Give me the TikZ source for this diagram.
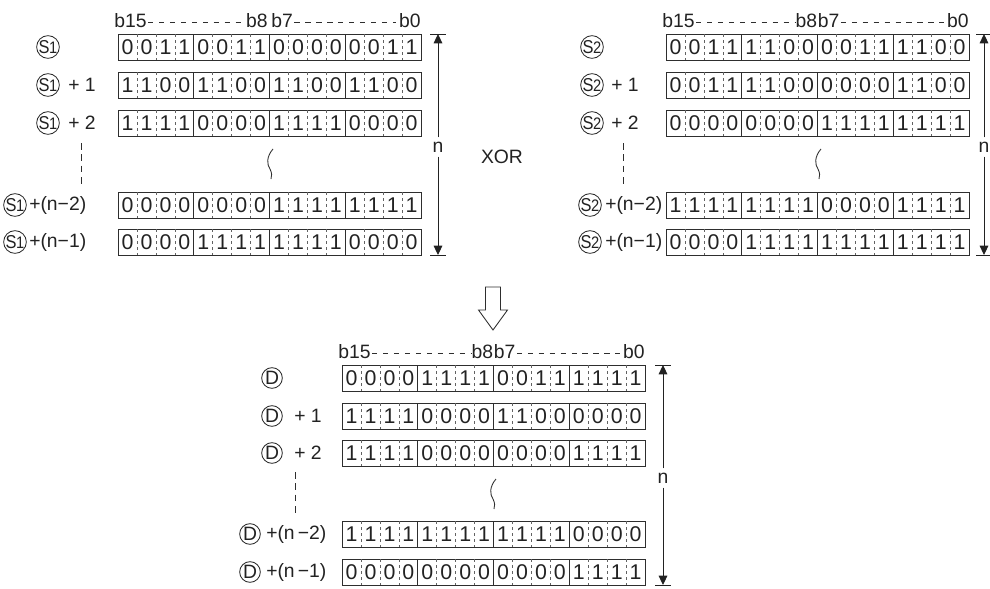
\documentclass[tikz,border=0pt]{standalone}
\usepackage{fontspec}
\setmainfont{Liberation Sans}
\usepackage{graphicx}
\usetikzlibrary{arrows.meta}
\definecolor{ink}{HTML}{222222}
\definecolor{lin}{HTML}{2E2E2E}
\newcommand\rowh{26}
\newcommand\regrow[4]{%
  \node[rowbox] (#1) at (#2,#3) {};
  \foreach \k in {1,...,15}{%
    \pgfmathtruncatemacro\mm{mod(\k,4)}%
    \ifnum\mm=0
      \draw[grpsep] (#2+\k*18.9375,#3) -- (#2+\k*18.9375,#3+\rowh);%
    \else
      \draw[cellsep] (#2+\k*18.9375,#3) -- (#2+\k*18.9375,#3+\rowh);%
    \fi
  }%
  \foreach \b [count=\i from 0] in {#4}{%
    \node[digit] (#1-\i) at (#2+\i*18.9375+9.6,#3+\rowh/2+0.3) {\b};}%
}
\newcommand\bline[4]{%
  \node[lbl, anchor=base west] (#1b15) at (#2-4,#3-6.5) {b15};
  \node[lbl, anchor=base east] (#1b8) at (#2+151.5-#4,#3-6.5) {b8};
  \node[lbl, anchor=base west] (#1b7) at (#2+151.5+#4,#3-6.5) {b7};
  \node[lbl, anchor=base east] (#1b0) at (#2+303,#3-6.5) {b0};
  \draw[bdash] ([xshift=1pt,yshift=3.9pt]#1b15.base east) -- ([xshift=-0.5pt,yshift=3.9pt]#1b8.base west);
  \draw[bdash] ([xshift=1pt,yshift=3.9pt]#1b7.base east) -- ([xshift=-2pt,yshift=3.9pt]#1b0.base west);
}
\newcommand\squig[2]{%
  \draw[sq] (#1+3,#2) .. controls (#1-4,#2+8) and (#1-3,#2+16) .. (#1,#2+20)
    .. controls (#1+2,#2+24) and (#1+2,#2+27) .. (#1+1,#2+30);}
\newcommand\nspan[5]{% prefix, x, top, bottom, ny
  \coordinate (#1t) at (#2,#3);
  \coordinate (#1b) at (#2,#4);
  \node[lbl, inner xsep=1pt, inner ysep=3.2pt] (#1n) at (#2,#5) {n};
  \draw[nline, arr] (#1n) -- (#1t);
  \draw[nline, arr] (#1n) -- (#1b);
  \draw[nline] (#2-8,#3) -- (#2+8,#3);
  \draw[nline] (#2-8,#4) -- (#2+8,#4);
}
\newcommand\cS[1]{\scalebox{0.88}[1]{\fontsize{14}{14}\selectfont S\kern-0.5pt{\fontsize{12.5}{12.5}\selectfont#1}}}
\begin{document}
\begin{tikzpicture}[x=0.75pt,y=-0.75pt,
  rowbox/.style={draw=lin, line width=0.95pt, minimum width=227.25pt, minimum height=19.5pt, inner sep=0pt, anchor=north west},
  grpsep/.style={draw=lin, line width=0.75pt},
  cellsep/.style={draw=lin!75, line width=0.45pt, dash pattern=on 2.6pt off 1.9pt},
  digit/.style={font=\fontsize{16}{16}\selectfont, text=ink, inner sep=0pt},
  lbl/.style={font=\fontsize{14.5}{14.5}\selectfont, text=ink, inner sep=0pt},
  circ/.style={circle, draw=lin, line width=0.65pt, minimum size=16pt, inner sep=0pt, text=ink},
  dcirc/.style={circle, draw=lin, line width=0.65pt, minimum size=15.5pt, inner sep=0pt, text=ink, font=\fontsize{14.5}{14.5}\selectfont},
  bdash/.style={draw=lin, line width=0.5pt, dash pattern=on 4pt off 4.2pt},
  vdash/.style={draw=lin, line width=0.65pt, dash pattern=on 5pt off 3.5pt},
  nline/.style={draw=ink, line width=0.75pt},
  arr/.style={-{Triangle[length=7pt,width=6.5pt]}},
  sq/.style={draw=lin, line width=0.65pt},
  arrowshape/.style={draw=lin, line width=0.65pt, fill=white}]
\useasboundingbox (0,0) rectangle (990,589);

% ---------------- top-left block (S1)
\bline{L}{118}{34}{1.5}
\regrow{La}{118}{34}{0,0,1,1,0,0,1,1,0,0,0,0,0,0,1,1}
\regrow{Lb}{118}{72}{1,1,0,0,1,1,0,0,1,1,0,0,1,1,0,0}
\regrow{Lc}{118}{110}{1,1,1,1,0,0,0,0,1,1,1,1,0,0,0,0}
\regrow{Ld}{118}{192}{0,0,0,0,0,0,0,0,1,1,1,1,1,1,1,1}
\regrow{Le}{118}{229}{0,0,0,0,1,1,1,1,1,1,1,1,0,0,0,0}
\node[circ] (s1a) at (48,47) {\cS{1}};
\node[circ] (s1b) at (48,85) {\cS{1}};
\node[lbl, anchor=west] (s1bt) at (68,85) {+ 1};
\node[circ] (s1c) at (48,123) {\cS{1}};
\node[lbl, anchor=west] (s1ct) at (68,123) {+ 2};
\node[circ] (s1d) at (15,205) {\cS{1}};
\node[lbl, anchor=west] (s1dt) at (29,205) {+(n−2)};
\node[circ] (s1e) at (15,242) {\cS{1}};
\node[lbl, anchor=west] (s1et) at (29,242) {+(n−1)};
\draw[vdash] (81,143) -- (81,188);
\squig{270}{149}
\nspan{LN}{438}{34}{255}{147}

% ---------------- XOR
\node[lbl] (xor) at (502,157) {XOR};

% ---------------- top-right block (S2)
\bline{R}{666}{34}{0}
\regrow{Ra}{666}{34}{0,0,1,1,1,1,0,0,0,0,1,1,1,1,0,0}
\regrow{Rb}{666}{72}{0,0,1,1,1,1,0,0,0,0,0,0,1,1,0,0}
\regrow{Rc}{666}{110}{0,0,0,0,0,0,0,0,1,1,1,1,1,1,1,1}
\regrow{Rd}{666}{192}{1,1,1,1,1,1,1,1,0,0,0,0,1,1,1,1}
\regrow{Re}{666}{229}{0,0,0,0,1,1,1,1,1,1,1,1,1,1,1,1}
\node[circ] (s2a) at (592,47) {\cS{2}};
\node[circ] (s2b) at (592,85) {\cS{2}};
\node[lbl, anchor=west] (s2bt) at (611,85) {+ 1};
\node[circ] (s2c) at (592,123) {\cS{2}};
\node[lbl, anchor=west] (s2ct) at (611,123) {+ 2};
\node[circ] (s2d) at (590,205) {\cS{2}};
\node[lbl, anchor=west] (s2dt) at (605,205) {+(n−2)};
\node[circ] (s2e) at (590,242) {\cS{2}};
\node[lbl, anchor=west] (s2et) at (605,242) {+(n−1)};
\draw[vdash] (623,143) -- (623,186);
\squig{818}{149}
\nspan{RN}{984}{34}{255}{147}

% ---------------- hollow arrow
\draw[arrowshape] (485.5,287) -- (500.5,287) -- (500.5,310) -- (507.5,310) -- (493,330)
  -- (478.5,310) -- (485.5,310) -- cycle;

% ---------------- bottom block (D)
\bline{D}{342}{365}{0}
\regrow{Da}{342}{365}{0,0,0,0,1,1,1,1,0,0,1,1,1,1,1,1}
\regrow{Db}{342}{403}{1,1,1,1,0,0,0,0,1,1,0,0,0,0,0,0}
\regrow{Dc}{342}{440}{1,1,1,1,0,0,0,0,0,0,0,0,1,1,1,1}
\regrow{Dd}{342}{521}{1,1,1,1,1,1,1,1,1,1,1,1,0,0,0,0}
\regrow{De}{342}{559}{0,0,0,0,0,0,0,0,0,0,0,0,1,1,1,1}
\node[dcirc] (da) at (272,378) {D};
\node[dcirc] (db) at (272,416) {D};
\node[lbl, anchor=west] (dbt) at (294,416) {+ 1};
\node[dcirc] (dc) at (272,453) {D};
\node[lbl, anchor=west] (dct) at (294,453) {+ 2};
\node[dcirc] (dd) at (250,534) {D};
\node[lbl, anchor=west] (ddt) at (266,534) {+(n\,−2)};
\node[dcirc] (de) at (250,572) {D};
\node[lbl, anchor=west] (det) at (266,572) {+(n\,−1)};
\draw[vdash] (295,472) -- (295,515);
\squig{493}{479}
\nspan{DN}{663}{365}{585}{478}
\end{tikzpicture}
\end{document}
